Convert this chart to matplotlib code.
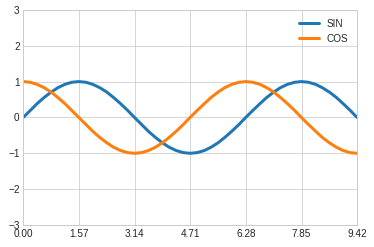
import matplotlib
matplotlib.use("Agg")
import matplotlib.pyplot as plt

plt.style.use("seaborn-v0_8-whitegrid")
plt.rcParams['font.family'] = ['Liberation Sans', 'DejaVu Sans']
plt.rcParams['font.size'] = 10

x = [0.00, 0.20, 0.39, 0.59, 0.79, 0.98, 1.18, 1.37, 1.57, 1.77, 1.96, 2.16, 2.36,
     2.55, 2.75, 2.95, 3.14, 3.34, 3.53, 3.73, 3.93, 4.12, 4.32, 4.52, 4.71, 4.91,
     5.11, 5.30, 5.50, 5.69, 5.89, 6.09, 6.28, 6.48, 6.68, 6.87, 7.07, 7.26, 7.46,
     7.66, 7.85, 8.05, 8.25, 8.44, 8.64, 8.84, 9.03, 9.23, 9.42]

sin_vals = [0, .195, .383, .556, .707, .831, .924, .981, 1.0,
            .981, .924, .831, .707, .556, .383, .195, 0,
            -.195, -.383, -.556, -.707, -.831, -.924, -.981, -1.0,
            -.981, -.924, -.831, -.707, -.556, -.383, -.195, 0,
            .195, .383, .556, .707, .831, .924, .981, 1.0,
            .981, .924, .831, .707, .556, .383, .195, 0]

cos_vals = [1.0, .981, .924, .831, .707, .556, .383, .195, 0,
            -.195, -.383, -.556, -.707, -.831, -.924, -.981, -1.0,
            -.981, -.924, -.831, -.707, -.556, -.383, -.195, 0,
            .195, .383, .556, .707, .831, .924, .981, 1.0,
            .981, .924, .831, .707, .556, .383, .195, 0,
            -.195, -.383, -.556, -.707, -.831, -.924, -.981, -1.0]

xtick_pos = [0, 1.5708, 3.1416, 4.7124, 6.2832, 7.854, 9.4248]
xtick_labels = ["0.00", "1.57", "3.14", "4.71", "6.28", "7.85", "9.42"]
ytick_pos = [-3, -2, -1, 0, 1, 2, 3]

fig = plt.figure(figsize=(374 / 72, 247 / 72), dpi=72)
ax = fig.add_axes([0.062, 0.089, 0.893, 0.871])

ax.plot(x, sin_vals, color="#1f77b4", lw=3, label="SIN")
ax.plot(x, cos_vals, color="#ff7f0e", lw=3, label="COS")

ax.set_xlim(0, 9.4248)
ax.set_ylim(-3, 3)
ax.set_xticks(xtick_pos)
ax.set_xticklabels(xtick_labels)
ax.set_yticks(ytick_pos)
ax.tick_params(labelsize=10, colors=".15")
for s in ax.spines.values():
    s.set_color(".8")

ax.legend(loc="upper right", frameon=False)

fig.savefig("out.png", dpi=72)
